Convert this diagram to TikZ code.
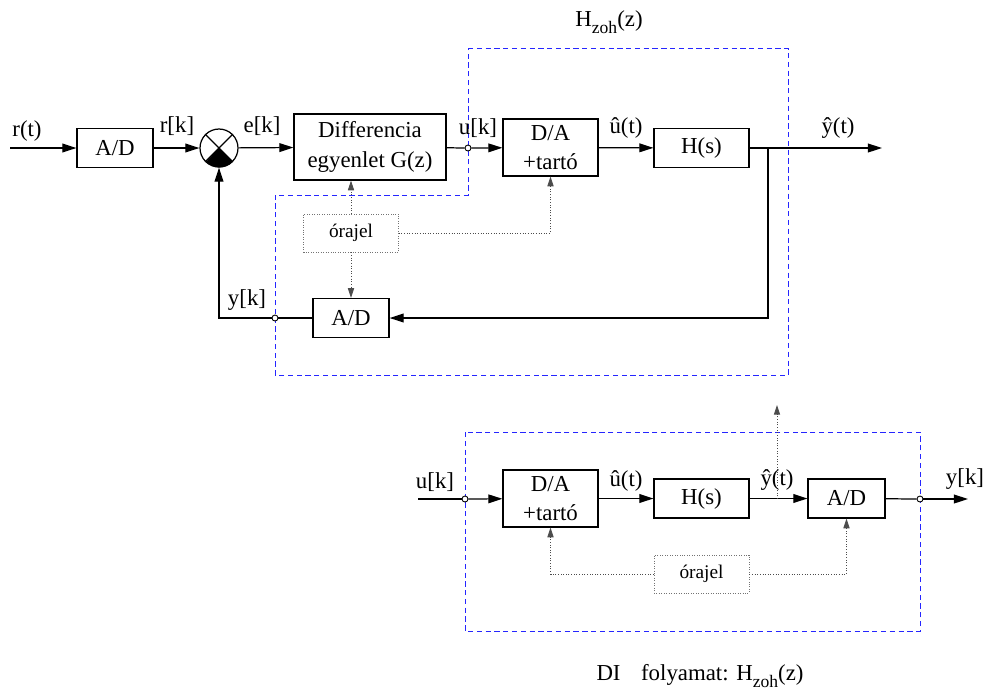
\documentclass[tikz,border=0pt]{standalone}
\usepackage{fontspec}
\setmainfont{Liberation Serif}
\usetikzlibrary{arrows.meta}
\tikzset{
  block/.style={draw, line width=0.7pt, minimum width=1.9cm, minimum height=0.78cm, inner sep=1pt, align=center},
  clockbox/.style={draw=black!55, densely dotted, minimum width=1.9cm, minimum height=0.76cm, font=\fontsize{11}{13}\selectfont},
  tap/.style={circle, draw, fill=white, line width=0.5pt, inner sep=0pt, minimum size=0.12cm},
  sig/.style={line width=0.7pt, -{Triangle[length=8pt,width=5pt]}},
  clk/.style={black!70, densely dotted, line width=0.5pt, -{Triangle[length=5.5pt,width=3.5pt]}},
  zoh/.style={blue!85, densely dashed, line width=0.5pt}
}
\newcommand{\Hzoh}{H\raisebox{-0.7ex}{\fontsize{10}{10}\selectfont zoh}(z)}
\begin{document}
\begin{tikzpicture}[x=0.02cm, y=-0.02cm, font=\fontsize{13}{17}\selectfont]
        \useasboundingbox (0,0) rectangle (987,691);

        % The closed loop
        \draw[zoh] (468,48) -- (788,48) -- (788,375) -- (275,375) -- (275,195) -- (468,195) -- cycle;
        \node at (609,22) {\Hzoh};

        \coordinate (rin) at (10,148);
        \node[block, minimum width=1.52cm] (ad1) at (115,148) {A/D};
        \node[circle, draw, line width=0.7pt, minimum size=0.76cm, inner sep=0pt] (sum) at (219,148) {};
        \fill (sum.center) -- (sum.south east) arc[start angle=-45, end angle=-135, radius=0.38cm] -- cycle;
        \draw[line width=0.7pt] (sum.north west) -- (sum.south east) (sum.north east) -- (sum.south west);
        \node[block, minimum width=3.04cm, minimum height=1.32cm] (gz) at (370,147) {Differencia\\egyenlet G(z)};
        \node[tap] (uk) at (468,148) {};
        \node[block, minimum height=1.14cm] (da) at (550.5,147.5) {D/A\\+tartó};
        \node[block] (hs) at (701.5,148) {H(s)};
        \coordinate (branch) at (768,148);
        \coordinate (yout) at (882,148);
        \node[block, minimum width=1.52cm] (ad2) at (351,318) {A/D};
        \node[tap] (yk) at (275,318) {};
        \node[clockbox] (clk1) at (351,233) {órajel};

        \draw[sig] (rin) -- (ad1);
        \draw[sig] (ad1) -- (sum);
        \draw[sig] (sum) -- (gz);
        \draw[line width=0.7pt] (gz) -- (uk);
        \draw[sig] (uk) -- (da);
        \draw[sig] (da) -- (hs);
        \draw[sig] (hs) -- (yout);
        \draw[sig] (branch) |- (ad2);
        \draw[line width=0.7pt] (ad2) -- (yk);
        \draw[sig] (yk) -| (sum);
        \draw[clk] (clk1.north) -- (clk1.north |- gz.south);
        \draw[clk] (clk1) -- (ad2);
        \draw[clk] (clk1) -| (da);

        \node at (27,131) {r(t)};
        \node at (177,126) {r[k]};
        \node at (262,126) {e[k]};
        \node at (478,128) {u[k]};
        \node at (626,128) {û(t)};
        \node at (838,128) {ŷ(t)};
        \node at (247,300) {y[k]};

        % The DI process
        \draw[zoh] (465,432) rectangle (920,631);

        \coordinate (ukin) at (418,499);
        \node[tap] (uk2) at (465,499) {};
        \node[block, minimum height=1.14cm] (da2) at (550.5,498.5) {D/A\\+tartó};
        \node[block] (hs2) at (701.5,498.5) {H(s)};
        \node[block, minimum width=1.54cm] (ad3) at (846.5,498.5) {A/D};
        \node[tap] (yk2) at (920,499) {};
        \coordinate (ykout) at (968,499);
        \coordinate (ytap) at (777,499);
        \coordinate (ytop) at (777,405);
        \node[clockbox] (clk2) at (701.5,574) {órajel};

        \draw[line width=0.7pt] (ukin) -- (uk2);
        \draw[sig] (uk2) -- (da2);
        \draw[sig] (da2) -- (hs2);
        \draw[sig] (hs2) -- (ad3);
        \draw[line width=0.7pt] (ad3) -- (yk2);
        \draw[sig] (yk2) -- (ykout);
        \draw[clk] (ytap) -- (ytop);
        \draw[clk] (clk2) -| (da2);
        \draw[clk] (clk2) -| (ad3);

        \node at (435,482) {u[k]};
        \node at (626,481) {û(t)};
        \node at (777,480) {ŷ(t)};
        \node at (965,479) {y[k]};

        \node at (700,676) {DI\hspace{0.9em}folyamat: \Hzoh};
    \end{tikzpicture}
\end{document}
